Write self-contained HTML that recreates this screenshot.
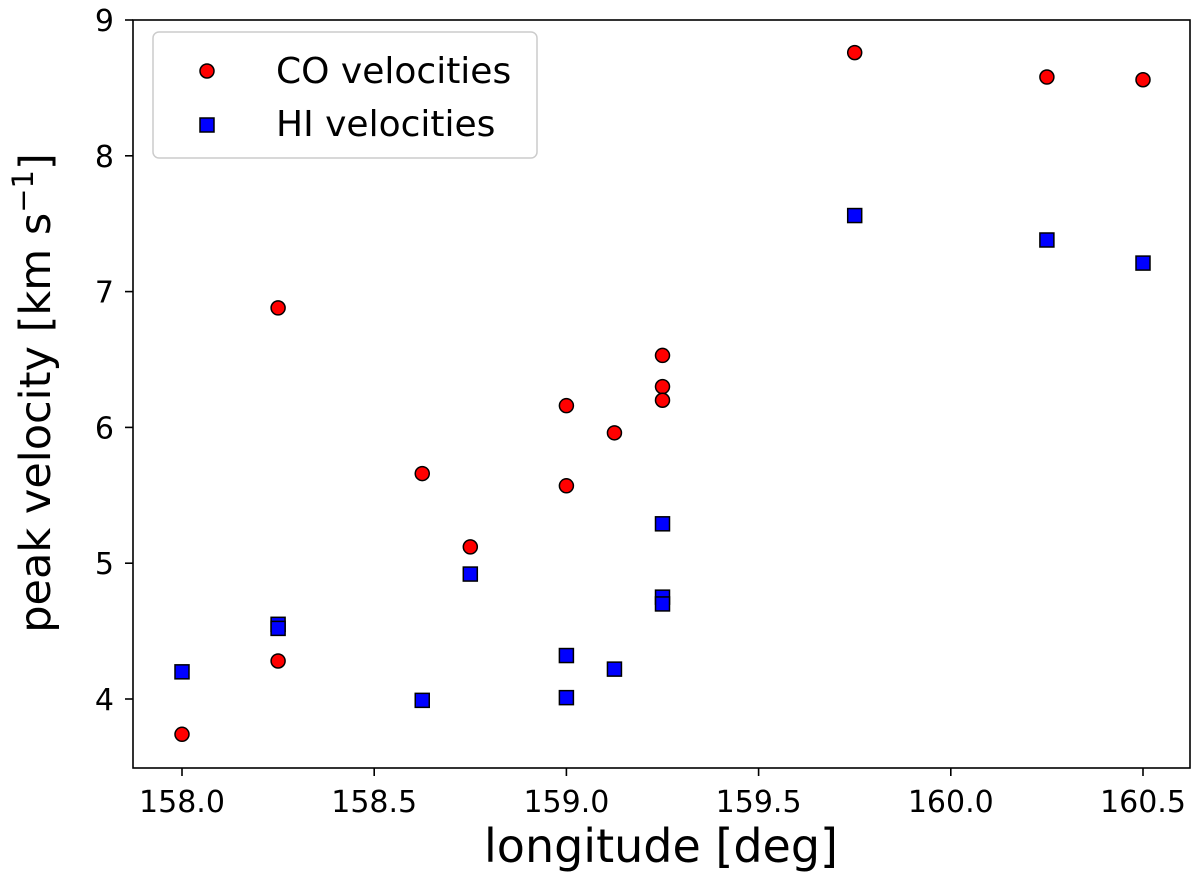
<!DOCTYPE html>
<html><head><meta charset="utf-8"><style>
body{margin:0;background:#fff;}
svg text{font-family:"DejaVu Sans","Liberation Sans",sans-serif;fill:#000;}
</style></head><body>
<svg id="chart" width="1200" height="880" xmlns="http://www.w3.org/2000/svg">
<rect id="plot" x="133" y="20" width="1057" height="748" fill="#fff" stroke="#000" stroke-width="1.6"/>
<g id="ticks"></g>
<g id="marks"></g>
<text x="661" y="862" font-size="46" text-anchor="middle">longitude [deg]</text>
<text transform="translate(50,393) rotate(-90)" font-size="43" text-anchor="middle">peak velocity [km s<tspan font-size="29" dy="-17">−1</tspan><tspan dy="17">]</tspan></text>
<g>
<rect x="153" y="32" width="384" height="126" rx="6" fill="#fff" stroke="#ccc" stroke-width="1.5"/>
<circle cx="207" cy="71" r="7" fill="#f00" stroke="#000" stroke-width="1.5"/>
<text x="276" y="83" font-size="36">CO velocities</text>
<rect x="200" y="118" width="14" height="14" fill="#00f" stroke="#000" stroke-width="1.5"/>
<text x="276" y="136" font-size="36">HI velocities</text>
</g>
</svg>
<script>
const xTicks=[158.0,158.5,159.0,159.5,160.0,160.5];
const yTicks=[4,5,6,7,8,9];
const coLon=[158,158.25,158.25,158.625,158.75,159,159,159.125,159.25,159.25,159.25,159.75,160.25,160.5];
const coVel=[3.74,6.88,4.28,5.66,5.12,6.16,5.57,5.96,6.53,6.30,6.20,8.76,8.58,8.56];
const hiLon=[158,158.25,158.25,158.625,158.75,159,159,159.125,159.25,159.25,159.25,159.75,160.25,160.5];
const hiVel=[4.20,4.55,4.52,3.99,4.92,4.32,4.01,4.22,5.29,4.75,4.70,7.56,7.38,7.21];
const NS="http://www.w3.org/2000/svg";
function sx(v){return 182+(v-158)*384.4;}
function sy(v){return 699-(v-4)*135.8;}
const tg=document.getElementById('ticks'),mg=document.getElementById('marks');
function mk(t,a,p){const e=document.createElementNS(NS,t);for(const k in a)e.setAttribute(k,a[k]);p.appendChild(e);return e;}
xTicks.forEach(v=>{const x=sx(v);
mk('line',{x1:x,x2:x,y1:768,y2:776,stroke:'#000','stroke-width':1.6},tg);
const t=mk('text',{x:x,y:812,'font-size':30,'text-anchor':'middle'},tg);t.textContent=v.toFixed(1);

});
yTicks.forEach(v=>{const y=sy(v);
mk('line',{x1:125,x2:133,y1:y,y2:y,stroke:'#000','stroke-width':1.6},tg);
const t=mk('text',{x:114,y:y+11,'font-size':30,'text-anchor':'end'},tg);t.textContent=v;

});
coLon.forEach((l,i)=>{const c=mk('circle',{cx:sx(l),cy:sy(coVel[i]),r:7,fill:'#f00',stroke:'#000','stroke-width':1.5},mg);

});
hiLon.forEach((l,i)=>{const r=mk('rect',{x:sx(l)-7,y:sy(hiVel[i])-7,width:14,height:14,fill:'#00f',stroke:'#000','stroke-width':1.5},mg);

});
</script>
</body></html>
